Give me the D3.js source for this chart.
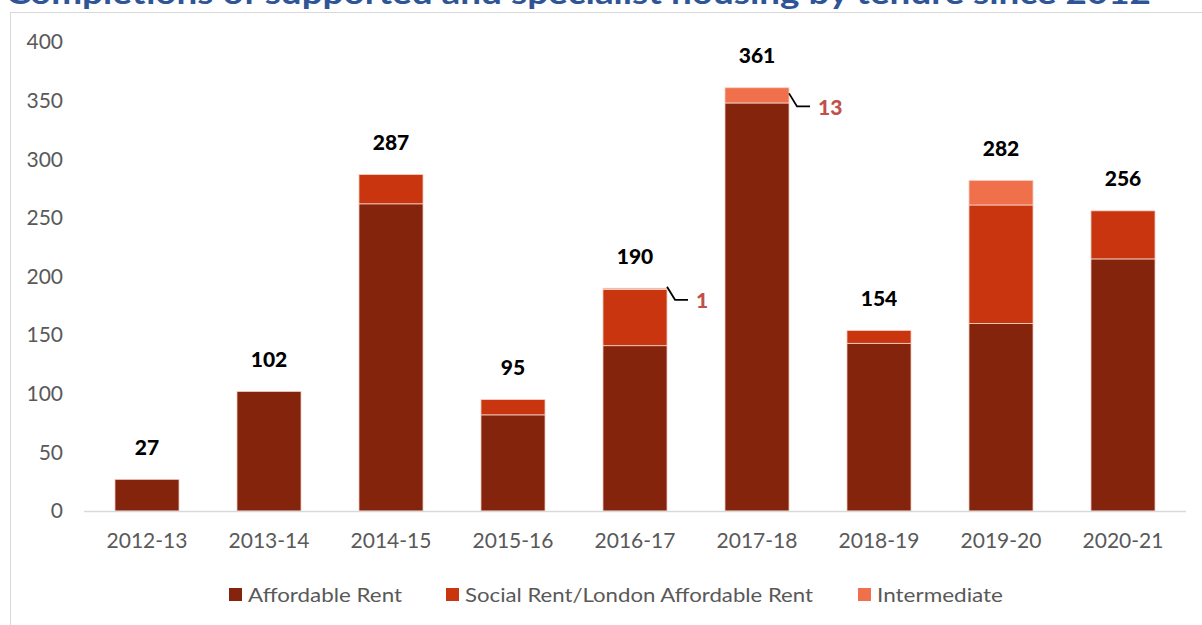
<!DOCTYPE html>
<html>
<head>
<meta charset="utf-8">
<script src="https://cdn.jsdelivr.net/npm/d3@7"></script>
<style>
  html, body { margin: 0; padding: 0; background: #fff; }
  svg { display: block; font-family: Lato, "Open Sans", sans-serif; }
</style>
</head>
<body>
<div id="chart"></div>
<script>
(function(){
  const W = 1202, H = 625;

  // data
  const years        = ['2012-13','2013-14','2014-15','2015-16','2016-17','2017-18','2018-19','2019-20','2020-21'];
  const affordable   = [27, 102, 262, 82, 141, 348, 143, 160, 215];
  const socialRent   = [0, 0, 25, 13, 48, 0, 11, 101, 41];
  const intermediate = [0, 0, 0, 0, 1, 13, 0, 21, 0];
  const yTicks       = [0, 50, 100, 150, 200, 250, 300, 350, 400];

  const seriesNames = ['Affordable Rent', 'Social Rent/London Affordable Rent', 'Intermediate'];
  const colors = ['#84240c', '#c8350f', '#f0704b'];

  const rows = years.map((y, i) => ({
    year: y,
    'Affordable Rent': affordable[i],
    'Social Rent/London Affordable Rent': socialRent[i],
    'Intermediate': intermediate[i]
  }));

  const svg = d3.select('#chart').append('svg')
    .attr('width', W).attr('height', H);

  // title, mostly cut off at the top like the source image
  svg.append('text')
    .attr('x', 6).attr('y', 4)
    .attr('textLength', 1145)
    .attr('lengthAdjust', 'spacingAndGlyphs')
    .attr('fill', '#2f5597')
    .attr('font-weight', 'bold')
    .attr('font-size', 30)
    .text('Completions of supported and specialist housing by tenure since 2012');

  // chart frame
  svg.append('rect')
    .attr('x', 10.5).attr('y', 12.5)
    .attr('width', 1200).attr('height', 640)
    .attr('fill', 'none').attr('stroke', '#d9d9d9');

  const x = d3.scaleBand().domain(years).range([86, 1184]).paddingInner(0.475).paddingOuter(0.2375);
  const y = d3.scaleLinear().domain([0, 400]).range([511, 42]);

  // y tick labels
  svg.append('g').selectAll('text')
    .data(yTicks).enter().append('text')
      .attr('x', 63).attr('y', d => y(d))
      .attr('dy', '0.35em')
      .attr('text-anchor', 'end')
      .attr('fill', '#595959')
      .attr('font-size', 21)
      .text(d => d);

  // stacked bars
  const stack = d3.stack().keys(seriesNames)(rows);
  svg.append('g').selectAll('g')
    .data(stack).enter().append('g')
      .attr('fill', (d, i) => colors[i])
    .selectAll('rect')
    .data(d => d.filter(v => v[1] > v[0])).enter().append('rect')
      .attr('x', d => x(d.data.year))
      .attr('y', d => y(d[1]))
      .attr('width', x.bandwidth())
      .attr('height', d => y(d[0]) - y(d[1]))
      .attr('stroke', '#f6d3c8')
      .attr('stroke-width', 0.8);

  // x axis line
  svg.append('line')
    .attr('x1', 84).attr('x2', 1186)
    .attr('y1', y(0) + 0.5).attr('y2', y(0) + 0.5)
    .attr('stroke', '#d9d9d9').attr('stroke-width', 1.5);

  // x tick labels
  svg.append('g').selectAll('text')
    .data(years).enter().append('text')
      .attr('x', d => x(d) + x.bandwidth() / 2)
      .attr('y', 541)
      .attr('dy', '0.35em')
      .attr('text-anchor', 'middle')
      .attr('fill', '#595959')
      .attr('font-size', 21)
      .text(d => d);

  // totals above bars
  const totals = rows.map((r, i) => affordable[i] + socialRent[i] + intermediate[i]);
  svg.append('g').selectAll('text')
    .data(years).enter().append('text')
      .attr('x', d => x(d) + x.bandwidth() / 2)
      .attr('y', (d, i) => y(totals[i]) - 32)
      .attr('dy', '0.35em')
      .attr('text-anchor', 'middle')
      .attr('fill', '#000')
      .attr('font-weight', 900)
      .attr('font-size', 21)
      .text((d, i) => totals[i]);

  // callouts for small intermediate values
  const callouts = years.map((d, i) => ({ year: d, i }))
    .filter(d => intermediate[d.i] > 0 && intermediate[d.i] < 20);
  const cg = svg.append('g').selectAll('g').data(callouts).enter().append('g');
  const midOf = d => y(totals[d.i] - intermediate[d.i] / 2);
  cg.append('path')
    .attr('fill', 'none').attr('stroke', '#000').attr('stroke-width', 1.8)
    .attr('d', d => {
      const x0 = x(d.year) + x.bandwidth();
      const m = midOf(d);
      return `M${x0},${m - 2} L${x0 + 8},${m + 11} L${x0 + 21},${m + 11}`;
    });
  cg.append('text')
    .attr('x', d => x(d.year) + x.bandwidth() + 29)
    .attr('y', d => midOf(d) + 12)
    .attr('dy', '0.35em')
    .attr('fill', '#c0504d')
    .attr('font-weight', 900)
    .attr('font-size', 21)
    .text(d => intermediate[d.i]);

  // legend
  const legendX = [229, 446, 858];
  const legendW = [154, 348, 126];
  const lg = svg.append('g').selectAll('g')
    .data(seriesNames).enter().append('g')
      .attr('transform', (d, i) => `translate(${legendX[i]},595)`);
  lg.append('rect')
    .attr('x', 0).attr('y', -7).attr('width', 13).attr('height', 13)
    .attr('fill', (d, i) => colors[i]);
  lg.append('text')
    .attr('x', 19).attr('y', 0).attr('dy', '0.35em')
    .attr('textLength', (d, i) => legendW[i])
    .attr('lengthAdjust', 'spacingAndGlyphs')
    .attr('fill', '#595959').attr('font-size', 20)
    .text(d => d);
})();
</script>
</body>
</html>
